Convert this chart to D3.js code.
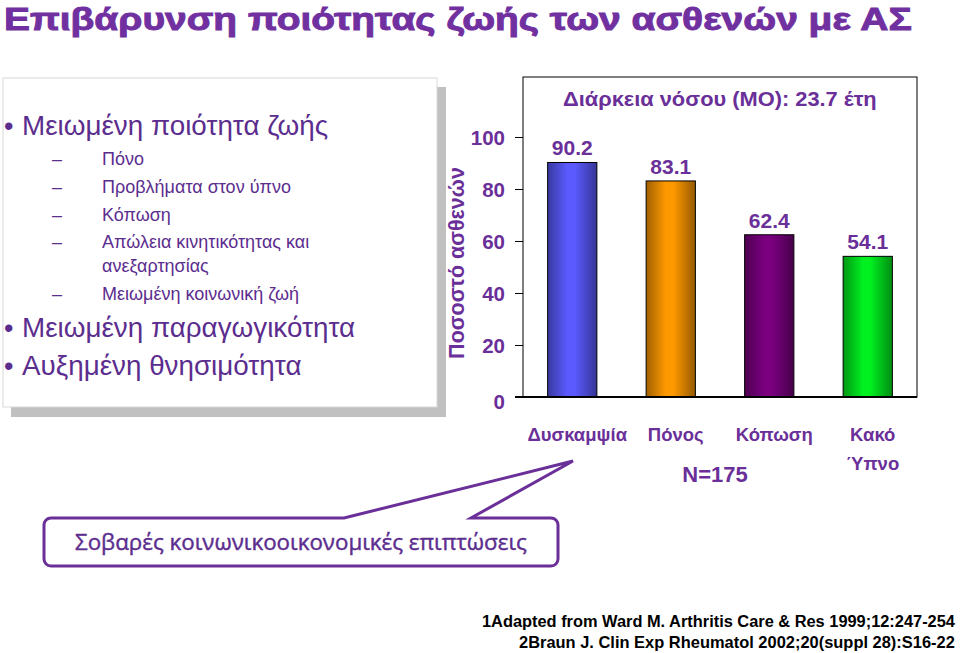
<!DOCTYPE html>
<html><head><meta charset="utf-8">
<script src="https://cdn.jsdelivr.net/npm/d3@7"></script>
<style>body{margin:0;background:#fff}svg{display:block}</style>
</head><body>
<svg id="c" width="960" height="653"></svg>
<script>
const categories = ["Δυσκαμψία", "Πόνος", "Κόπωση", "Κακό\nΎπνο"];
const values = [90.2, 83.1, 62.4, 54.1];
const barColors = ["#5a5aff", "#ff9900", "#7a0080", "#00f020"];
const yTicks = [0, 20, 40, 60, 80, 100];
const titleText = "Επιβάρυνση ποιότητας ζωής των ασθενών με ΑΣ";
const chartTitle = "Διάρκεια νόσου (ΜΟ): 23.7 έτη";
const yLabel = "Ποσοστό ασθενών";
const nText = "N=175";
const bulletItems = [
  {lvl:0, text:"Μειωμένη ποιότητα ζωής"},
  {lvl:1, text:"Πόνο"},
  {lvl:1, text:"Προβλήματα στον ύπνο"},
  {lvl:1, text:"Κόπωση"},
  {lvl:1, text:"Απώλεια κινητικότητας και", cont:"ανεξαρτησίας"},
  {lvl:1, text:"Μειωμένη κοινωνική ζωή"},
  {lvl:0, text:"Μειωμένη παραγωγικότητα"},
  {lvl:0, text:"Αυξημένη θνησιμότητα"}
];
const calloutText = "Σοβαρές κοινωνικοοικονομικές επιπτώσεις";
const footnotes = ["1Adapted from Ward M. Arthritis Care & Res 1999;12:247-254",
                   "2Braun J. Clin Exp Rheumatol 2002;20(suppl 28):S16-22"];

const purple = "#6a2f98";
const sans = "'Liberation Sans', Arial, sans-serif";
const svg = d3.select("#c");
const defs = svg.append("defs");

function fitText(sel, x0, yb, w) {
  const nat = sel.node().getComputedTextLength();
  sel.attr("x", 0).attr("y", 0)
     .attr("transform", `translate(${x0},${yb}) scale(${w / nat},1)`);
}

// Title
const t = svg.append("text")
  .attr("font-family", sans)
  .attr("font-weight", "bold").attr("font-size", 31).attr("fill", "#7030a0")
  .attr("stroke", "#7030a0").attr("stroke-width", 0.9)
  .text(titleText);
fitText(t, 4, 30, 908);

// Left box with shadow
svg.append("rect").attr("x", 11).attr("y", 87).attr("width", 435).attr("height", 330).attr("fill", "#c0c0c0");
svg.append("rect").attr("x", 3).attr("y", 78).attr("width", 434).attr("height", 329)
  .attr("fill", "#fff").attr("stroke", "#d8d8d8").attr("stroke-width", 1);

const listG = svg.append("g").attr("font-family", sans).attr("fill", "#5b2d8e");
const baselines = [135, 165, 193, 221, 248, 300, 337, 375];
bulletItems.forEach((it, i) => {
  const y = baselines[i];
  if (it.lvl === 0) {
    listG.append("text").attr("x", 4).attr("y", y).attr("font-size", 27).text("•");
    listG.append("text").attr("x", 22).attr("y", y).attr("font-size", 27.8).text(it.text);
  } else {
    listG.append("text").attr("x", 52).attr("y", y).attr("font-size", 18).text("–");
    listG.append("text").attr("x", 102).attr("y", y).attr("font-size", 18).text(it.text);
    if (it.cont) listG.append("text").attr("x", 102).attr("y", y + 24).attr("font-size", 18).text(it.cont);
  }
});

// Chart
const plot = {left: 523, right: 917, top: 77, bottom: 397};
const x = d3.scaleBand().domain(categories).range([plot.left, plot.right]).paddingInner(0.5).paddingOuter(0.25);
const y = d3.scaleLinear().domain([0, 100]).range([plot.bottom, 137]);

barColors.forEach((c, i) => {
  const g = defs.append("linearGradient").attr("id", "g" + i).attr("x1", "0").attr("x2", "1").attr("y1", "0").attr("y2", "0");
  g.append("stop").attr("offset", "0%").attr("stop-color", d3.color(c).darker(1.3));
  g.append("stop").attr("offset", "40%").attr("stop-color", c);
  g.append("stop").attr("offset", "55%").attr("stop-color", c);
  g.append("stop").attr("offset", "100%").attr("stop-color", d3.color(c).darker(1.5));
});

svg.append("rect").attr("x", plot.left).attr("y", plot.top)
  .attr("width", plot.right - plot.left).attr("height", plot.bottom - plot.top)
  .attr("fill", "none").attr("stroke", "#000").attr("stroke-width", 1);

const ct = svg.append("text")
  .attr("font-family", sans).attr("font-weight", "bold")
  .attr("font-size", 21).attr("fill", purple).text(chartTitle);
fitText(ct, 563, 106, 314);

svg.append("g").selectAll("rect").data(values).join("rect")
  .attr("x", (d, i) => x(categories[i]))
  .attr("y", d => y(d))
  .attr("width", x.bandwidth())
  .attr("height", d => y(0) - y(d))
  .attr("fill", (d, i) => `url(#g${i})`)
  .attr("stroke", "#000").attr("stroke-width", 1);

svg.append("g").selectAll("text").data(values).join("text")
  .attr("x", (d, i) => x(categories[i]) + x.bandwidth() / 2)
  .attr("y", d => y(d) - 7)
  .attr("text-anchor", "middle")
  .attr("font-family", sans).attr("font-weight", "bold")
  .attr("font-size", 21).attr("fill", purple)
  .text(d => d.toFixed(1));

const yAxis = svg.append("g").attr("transform", `translate(${plot.left},0)`)
  .call(d3.axisLeft(y).tickValues(yTicks).tickSize(8).tickPadding(10).tickFormat(d3.format("d")));
yAxis.select(".domain").remove();
yAxis.selectAll("line").attr("stroke", "#000");
yAxis.selectAll("text").attr("font-family", sans)
  .attr("font-weight", "bold").attr("font-size", 20.5).attr("fill", purple).attr("dy", "0.35em");
yAxis.selectAll(".tick").filter(d => d === 0).select("text").attr("dy", "0.55em");

svg.append("line").attr("x1", 515).attr("x2", plot.right).attr("y1", plot.bottom).attr("y2", plot.bottom)
  .attr("stroke", "#000").attr("stroke-width", 2);

svg.append("text").attr("transform", "translate(464,263) rotate(-90)")
  .attr("text-anchor", "middle")
  .attr("font-family", sans).attr("font-weight", "bold")
  .attr("font-size", 21.5).attr("fill", purple).text(yLabel);

const catG = svg.append("g").attr("font-family", sans)
  .attr("font-weight", "bold").attr("font-size", 18.5).attr("fill", purple).attr("text-anchor", "middle");
categories.forEach((c, i) => {
  c.split("\n").forEach((l, j) => {
    catG.append("text").attr("x", x(c) + x.bandwidth() / 2 + 5).attr("y", 441 + j * 29).text(l);
  });
});
svg.append("text").attr("x", 715).attr("y", 482).attr("text-anchor", "middle")
  .attr("font-family", sans).attr("font-weight", "bold")
  .attr("font-size", 22).attr("fill", purple).text(nText);

// callout
const bx0 = 44, by0 = 518, bx1 = 558, by1 = 566, r = 7;
const p = d3.path();
p.moveTo(bx0 + r, by0);
p.lineTo(344, by0);
p.lineTo(573, 461);
p.lineTo(471, by0);
p.lineTo(bx1 - r, by0);
p.arcTo(bx1, by0, bx1, by0 + r, r);
p.lineTo(bx1, by1 - r);
p.arcTo(bx1, by1, bx1 - r, by1, r);
p.lineTo(bx0 + r, by1);
p.arcTo(bx0, by1, bx0, by1 - r, r);
p.lineTo(bx0, by0 + r);
p.arcTo(bx0, by0, bx0 + r, by0, r);
p.closePath();
svg.append("path").attr("d", p.toString()).attr("fill", "#fff").attr("stroke", "#6a2f98").attr("stroke-width", 3);
const cl = svg.append("text")
  .attr("font-family", "'Open Sans', 'Liberation Sans', sans-serif")
  .attr("font-size", 21).attr("fill", "#5b2d8e")
  .attr("stroke", "#5b2d8e").attr("stroke-width", 0.4).text(calloutText);
fitText(cl, 75, 550, 452);

// footnotes
const fnStarts = [482, 519];
footnotes.forEach((f, i) => {
  const fn = svg.append("text")
    .attr("font-family", sans).attr("font-weight", "bold")
    .attr("font-size", 16).attr("fill", "#000").text(f);
  fitText(fn, fnStarts[i], 627 + i * 21, 955 - fnStarts[i]);
});
</script>
</body></html>
